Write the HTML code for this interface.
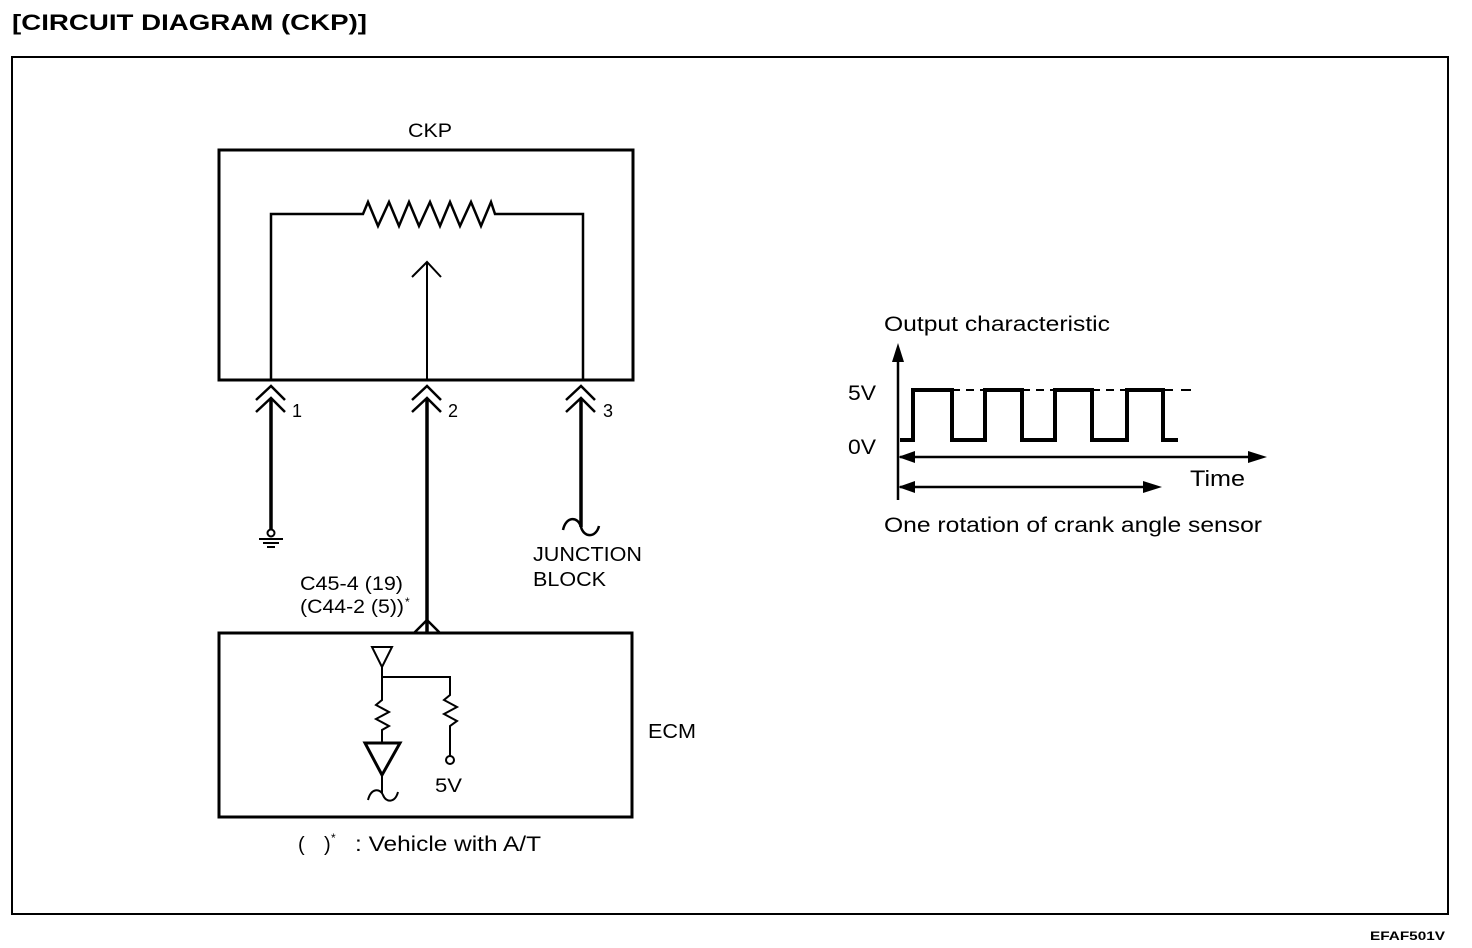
<!DOCTYPE html>
<html><head><meta charset="utf-8"><style>
html,body{margin:0;padding:0;background:#fff}
svg{display:block}
text{font-family:"Liberation Sans",Arial,sans-serif;fill:#000}
</style></head><body>
<svg width="1472" height="948" viewBox="0 0 1472 948" xmlns="http://www.w3.org/2000/svg">
<text x="12" y="30" font-size="22" font-weight="bold" textLength="355" lengthAdjust="spacingAndGlyphs">[CIRCUIT DIAGRAM (CKP)]</text>
<rect x="12" y="57" width="1436" height="857" fill="none" stroke="#000" stroke-width="2"/>
<g fill="none" stroke="#000" stroke-linejoin="miter">
<rect x="219" y="150" width="414" height="230" stroke-width="3"/>
<polyline stroke-width="2.5" points="271,380 271,214 363,214 368,202 378,226 389,202 399,226 409,202 419,226 430,202 440,226 450,202 460,226 471,202 481,226 491,202 495,214 583,214 583,380"/>
<line x1="427" y1="380" x2="427" y2="262" stroke-width="2"/>
<polyline points="412,277 427,262 441,277" stroke-width="2"/>
<g stroke-width="2.5">
<polyline points="256,400 271,386 285,400"/><polyline points="256,412 271,398 285,412"/>
<line x1="271" y1="398" x2="271" y2="530" stroke-width="3.5"/>
<polyline points="412,400 427,386 441,400"/><polyline points="412,412 427,398 441,412"/>
<line x1="427" y1="398" x2="427" y2="633" stroke-width="3.5"/>
<polyline points="566,400 581,386 595,400"/><polyline points="566,412 581,398 595,412"/>
<line x1="581" y1="398" x2="581" y2="527" stroke-width="3.5"/>
</g>
<circle cx="271" cy="533" r="3.5" stroke-width="2"/>
<line x1="259" y1="539" x2="283" y2="539" stroke-width="2"/>
<line x1="263" y1="543" x2="279" y2="543" stroke-width="2"/>
<line x1="267" y1="547" x2="275" y2="547" stroke-width="2"/>
<path d="M563,530 C566,516 578,516 581,527 C584,538 596,538 599,526" stroke-width="2.5"/>
<rect x="219" y="633" width="413" height="184" stroke-width="3"/>
<polyline points="414,633 427,620 440,633" stroke-width="2.5"/>
<polygon points="372,647 392,647 382,667" stroke-width="2"/>
<polyline points="382,667 382,700 376,705 389,712 376,719 389,726 382,730 382,743" stroke-width="2"/>
<polyline points="382,677 450,677 450,695 444,700 457,707 444,714 457,721 450,726 450,756" stroke-width="2"/>
<circle cx="450" cy="760" r="4" stroke-width="2"/>
<polygon points="365,743 400,743 382,775" stroke-width="3"/>
<line x1="382" y1="775" x2="382" y2="793" stroke-width="2"/>
<path d="M368,800 C371,788 380,788 383,795 C386,803 395,803 398,792" stroke-width="2"/>
<line x1="898" y1="500" x2="898" y2="355" stroke-width="2.5"/>
<polyline stroke-width="4" points="900,440 913,440 913,390 952,390 952,440 985,440 985,390 1022,390 1022,440 1055,440 1055,390 1092,390 1092,440 1127,440 1127,390 1163,390 1163,440 1178,440"/>
<line x1="1163" y1="390" x2="1195" y2="390" stroke-width="2" stroke-dasharray="10,8"/>
<line x1="952" y1="390" x2="985" y2="390" stroke-width="2" stroke-dasharray="8,6"/>
<line x1="1022" y1="390" x2="1055" y2="390" stroke-width="2" stroke-dasharray="8,6"/>
<line x1="1092" y1="390" x2="1127" y2="390" stroke-width="2" stroke-dasharray="8,6"/>
<line x1="900" y1="457" x2="1255" y2="457" stroke-width="2.5"/>
<line x1="900" y1="487" x2="1150" y2="487" stroke-width="2.5"/>
</g>
<g fill="#000">
<polygon points="898,343 892,362 904,362"/>
<polygon points="898,457 915,451 915,463"/>
<polygon points="1267,457 1248,451 1248,463"/>
<polygon points="898,487 915,481 915,493"/>
<polygon points="1162,487 1143,481 1143,493"/>
</g>
<text x="408" y="137" font-size="19" textLength="44" lengthAdjust="spacingAndGlyphs">CKP</text>
<text x="292" y="417" font-size="18">1</text>
<text x="448" y="417" font-size="18">2</text>
<text x="603" y="417" font-size="18">3</text>
<text x="533" y="561" font-size="20" textLength="109" lengthAdjust="spacingAndGlyphs">JUNCTION</text>
<text x="533" y="586" font-size="20" textLength="73" lengthAdjust="spacingAndGlyphs">BLOCK</text>
<text x="300" y="590" font-size="19" textLength="103" lengthAdjust="spacingAndGlyphs">C45-4 (19)</text>
<text x="300" y="613" font-size="19" textLength="104" lengthAdjust="spacingAndGlyphs">(C44-2 (5))</text>
<text x="405" y="606" font-size="12">*</text>
<text x="648" y="738" font-size="20" textLength="48" lengthAdjust="spacingAndGlyphs">ECM</text>
<text x="435" y="792" font-size="19" textLength="27" lengthAdjust="spacingAndGlyphs">5V</text>
<text x="298" y="851" font-size="20">(</text>
<text x="324" y="851" font-size="20">)</text>
<text x="331" y="842" font-size="12">*</text>
<text x="355" y="851" font-size="21" textLength="186" lengthAdjust="spacingAndGlyphs">: Vehicle with A/T</text>
<text x="884" y="331" font-size="21" textLength="226" lengthAdjust="spacingAndGlyphs">Output characteristic</text>
<text x="848" y="400" font-size="21" textLength="28" lengthAdjust="spacingAndGlyphs">5V</text>
<text x="848" y="454" font-size="21" textLength="28" lengthAdjust="spacingAndGlyphs">0V</text>
<text x="1190" y="486" font-size="22" textLength="55" lengthAdjust="spacingAndGlyphs">Time</text>
<text x="884" y="532" font-size="21" textLength="378" lengthAdjust="spacingAndGlyphs">One rotation of crank angle sensor</text>
<text x="1370" y="940" font-size="12" font-weight="bold" textLength="75" lengthAdjust="spacingAndGlyphs">EFAF501V</text>
</svg>
</body></html>
